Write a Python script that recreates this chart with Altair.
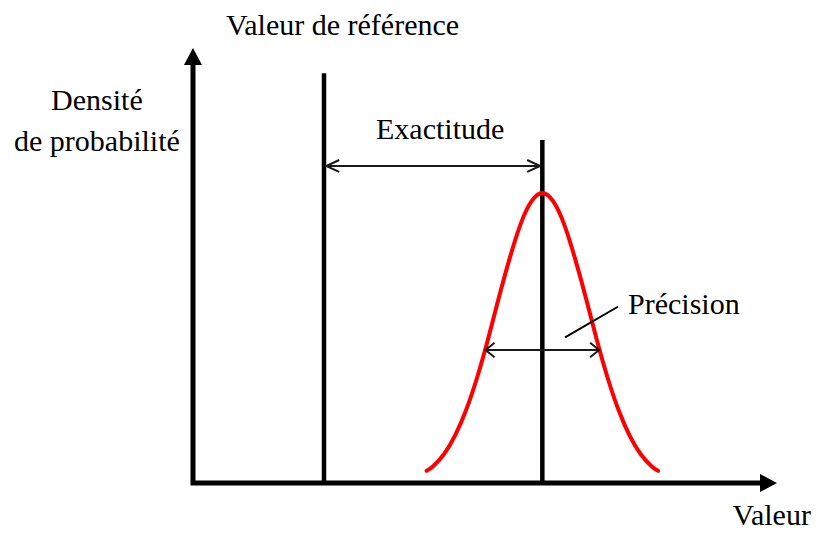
import altair as alt
import pandas as pd

# ---- data (x = "Valeur", y = "Densité de probabilité") ----
valeur_reference = 3.0
valeur_moyenne = 8.0
ref_line_top = 0.537
mean_line_top = 0.4495

curve_x = [5.35, 5.5, 5.75, 6.0, 6.25, 6.5, 6.75, 7.0, 7.25, 7.5, 7.75, 8.0,
           8.25, 8.5, 8.75, 9.0, 9.25, 9.5, 9.75, 10.0, 10.25, 10.5, 10.65]
curve_y = [0.016, 0.022, 0.038, 0.062, 0.095, 0.137, 0.187, 0.242, 0.294, 0.339, 0.369, 0.380,
           0.369, 0.339, 0.294, 0.242, 0.187, 0.137, 0.095, 0.062, 0.038, 0.022, 0.016]

axis_x = [0.0, 0.0, 12.985]
axis_y = [0.5478, 0.0, 0.0]
axis_tip_x = [0.0, 13.374]
axis_tip_y = [0.5701, 0.0]

exactitude_y = 0.4155
exactitude_x = [3.05, 7.95]
precision_y = 0.1743
precision_x = [6.7, 9.3]
leader_x = [8.52, 9.73]
leader_y = [0.191, 0.231]

labels = ["Valeur de référence", "Densité", "de probabilité", "Exactitude", "Précision", "Valeur"]
label_x = [3.424, -2.20, -2.20, 5.66, 9.962, 14.15]
label_y = [0.5872, 0.4889, 0.4351, 0.4509, 0.2215, -0.0555]
label_align = ["center", "center", "center", "center", "left", "right"]

# ---- scales ----
XA, XB = -4.2366, 14.2214
YA, YB = -0.06553, 0.62254
xs = alt.Scale(domain=[XA, XB], nice=False, zero=False)
ys = alt.Scale(domain=[YA, YB], nice=False, zero=False)


def X(f):
    return alt.X(f, type="quantitative", scale=xs, axis=None)


def Y(f):
    return alt.Y(f, type="quantitative", scale=ys, axis=None)


# axes polyline
axes_df = pd.DataFrame({"x": axis_x, "y": axis_y, "i": list(range(len(axis_x)))})
axes = alt.Chart(axes_df).mark_line(color="black", strokeWidth=5, strokeJoin="miter", strokeCap="butt").encode(
    x=X("x"), y=Y("y"), order=alt.Order("i:Q"))

tips_df = pd.DataFrame({"x": axis_tip_x, "y": axis_tip_y,
                        "shape": ["M0,0L-0.53,1L0.53,1Z", "M0,0L-1,-0.53L-1,0.53Z"]})
tips = alt.Chart(tips_df).mark_point(filled=True, color="black", opacity=1, size=1156, strokeWidth=0).encode(
    x=X("x"), y=Y("y"), shape=alt.Shape("shape:N", scale=None, legend=None))

# vertical lines
vlines_df = pd.DataFrame({"x": [valeur_reference, valeur_moyenne], "y0": [0.0, 0.0],
                          "y1": [ref_line_top, mean_line_top]})
vlines = alt.Chart(vlines_df).mark_rule(color="black", strokeWidth=4.5).encode(
    x=X("x"), y=Y("y0"), y2="y1")

# density curve
curve_df = pd.DataFrame({"x": curve_x, "y": curve_y})
curve = alt.Chart(curve_df).mark_line(color="#ff0000", strokeWidth=4, strokeCap="round",
                                      interpolate="natural").encode(x=X("x"), y=Y("y"))

# double arrows shafts
shafts_df = pd.DataFrame({"x0": [exactitude_x[0], precision_x[0]], "x1": [exactitude_x[1], precision_x[1]],
                          "y": [exactitude_y, precision_y]})
shafts = alt.Chart(shafts_df).mark_rule(color="#1a1a1a", strokeWidth=2).encode(
    x=X("x0"), x2="x1", y=Y("y"))

chev_df = pd.DataFrame({
    "x": [exactitude_x[0], exactitude_x[1], precision_x[0], precision_x[1]],
    "y": [exactitude_y, exactitude_y, precision_y, precision_y],
    "shape": ["M1,-0.46L0,0L1,0.46", "M-1,-0.46L0,0L-1,0.46",
              "M1,-0.8L0,0L1,0.8", "M-1,-0.8L0,0L-1,0.8"],
    "size": [676, 676, 324, 324],
})
chevrons = alt.Chart(chev_df).mark_point(filled=False, color="#1a1a1a", opacity=1, strokeWidth=2).encode(
    x=X("x"), y=Y("y"), shape=alt.Shape("shape:N", scale=None, legend=None),
    size=alt.Size("size:Q", scale=None, legend=None))

leader_df = pd.DataFrame({"x0": [leader_x[0]], "x1": [leader_x[1]], "y0": [leader_y[0]], "y1": [leader_y[1]]})
leader = alt.Chart(leader_df).mark_rule(color="black", strokeWidth=2).encode(
    x=X("x0"), x2="x1", y=Y("y0"), y2="y1")

# texts
text_df = pd.DataFrame({"t": labels, "x": label_x, "y": label_y, "a": label_align})


def text_layer(al):
    return alt.Chart(text_df).transform_filter(alt.datum.a == al).mark_text(
        font="Liberation Serif", fontSize=30, color="black", align=al, baseline="alphabetic").encode(
        x=X("x"), y=Y("y"), text="t:N")


chart = alt.layer(
    vlines, curve, shafts, chevrons, leader, axes, tips,
    text_layer("center"), text_layer("left"), text_layer("right"),
).properties(
    width=806, height=525, padding=0, autosize=alt.AutoSizeParams(type="none"),
    background="white",
).configure_view(stroke=None)

chart.save("out.html", embed_options={"renderer": "svg", "actions": False})
